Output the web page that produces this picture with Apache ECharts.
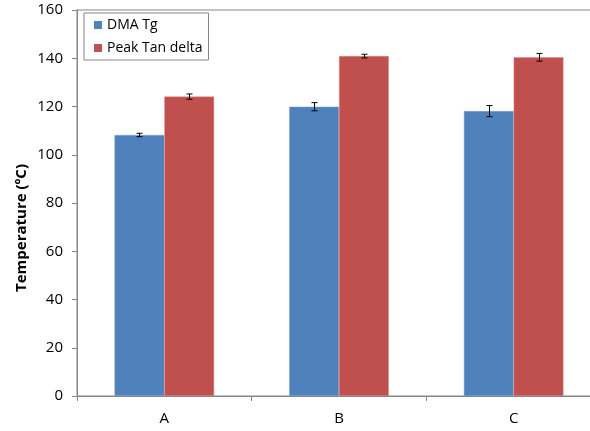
<!DOCTYPE html>
<html><head><meta charset="utf-8">
<script src="https://cdn.jsdelivr.net/npm/echarts@6/dist/echarts.min.js"></script>
<style>html,body{margin:0;padding:0;background:#fff}#c{width:590px;height:431px}</style>
</head><body><div id="c"></div>
<script>
const categories = ['A', 'B', 'C'];
const dmaTg = [108.2, 119.9, 118.1];
const dmaTgErr = [0.7, 1.7, 2.3];
const peakTan = [124.1, 140.9, 140.4];
const peakTanErr = [1.1, 0.75, 1.6];
const yTicks = [0, 20, 40, 60, 80, 100, 120, 140, 160];

const FONT = '"Open Sans", "Liberation Sans", sans-serif';
const gap = 0.43;

function errSeries(name, vals, errs, sign) {
  return {
    type: 'custom', name: name + ' err', silent: true, z: 10,
    data: vals.map((v, i) => [i, v - errs[i], v + errs[i]]),
    renderItem: function (params, api) {
      const band = api.size([1, 0])[0];
      const off = sign * band * (1 - gap) / 4;
      const lo = api.coord([api.value(0), api.value(1)]);
      const hi = api.coord([api.value(0), api.value(2)]);
      const x = Math.round(lo[0] + off) + 0.5;
      const cw = 3;
      const st = { stroke: '#000', lineWidth: 1 };
      return { type: 'group', children: [
        { type: 'line', shape: { x1: x, y1: hi[1], x2: x, y2: lo[1] }, style: st },
        { type: 'line', shape: { x1: x - cw, y1: hi[1], x2: x + cw, y2: hi[1] }, style: st },
        { type: 'line', shape: { x1: x - cw, y1: lo[1], x2: x + cw, y2: lo[1] }, style: st }
      ]};
    }
  };
}

const chart = echarts.init(document.getElementById('c'));
chart.setOption({
  animation: false,
  textStyle: { fontFamily: FONT },
  grid: { left: 77, width: 524, top: 10, height: 386, outerBoundsMode: 'none', containLabel: false,
    show: true, borderColor: '#868686', borderWidth: 1 },
  legend: {
    orient: 'vertical', left: 84, top: 13,
    data: ['DMA Tg', 'Peak Tan delta'],
    itemWidth: 8, itemHeight: 8, itemGap: 9,
    itemStyle: { borderWidth: 0 },
    borderColor: '#868686', borderWidth: 1, padding: [5, 6, 5, 10],
    textStyle: { fontFamily: FONT, fontSize: 14, color: '#000' },
    icon: 'rect'
  },
  graphic: [{
    type: 'text', x: 22, y: 228, rotation: Math.PI / 2,
    style: { text: 'Temperature (ºC)', fill: '#000', font: 'bold 15px ' + FONT, align: 'center', verticalAlign: 'middle' }
  }],
  xAxis: {
    type: 'category', data: categories,
    axisLine: { lineStyle: { color: '#868686' } },
    axisTick: { show: true, length: 5, lineStyle: { color: '#868686' } },
    axisLabel: { fontSize: 15, color: '#000', margin: 15, fontFamily: FONT }
  },
  yAxis: {
    type: 'value', min: 0, max: 160, interval: 20,
    axisLine: { show: true, lineStyle: { color: '#868686' } },
    axisTick: { show: true, length: 5, lineStyle: { color: '#868686' } },
    axisLabel: { fontSize: 15, color: '#000', margin: 14, fontFamily: FONT,
      formatter: function (v) { return yTicks.indexOf(v) >= 0 ? String(v) : ''; } },
    splitLine: { show: false }
  },
  series: [
    { name: 'DMA Tg', type: 'bar', data: dmaTg, barGap: '0%', barCategoryGap: (gap * 100) + '%',
      itemStyle: { color: '#4F81BD', borderColor: '#7da2d0', borderWidth: 0.5 } },
    { name: 'Peak Tan delta', type: 'bar', data: peakTan,
      itemStyle: { color: '#C0504D', borderColor: '#d88a88', borderWidth: 0.5 } },
    errSeries('DMA Tg', dmaTg, dmaTgErr, -1),
    errSeries('Peak Tan delta', peakTan, peakTanErr, 1)
  ]
});
</script></body></html>
